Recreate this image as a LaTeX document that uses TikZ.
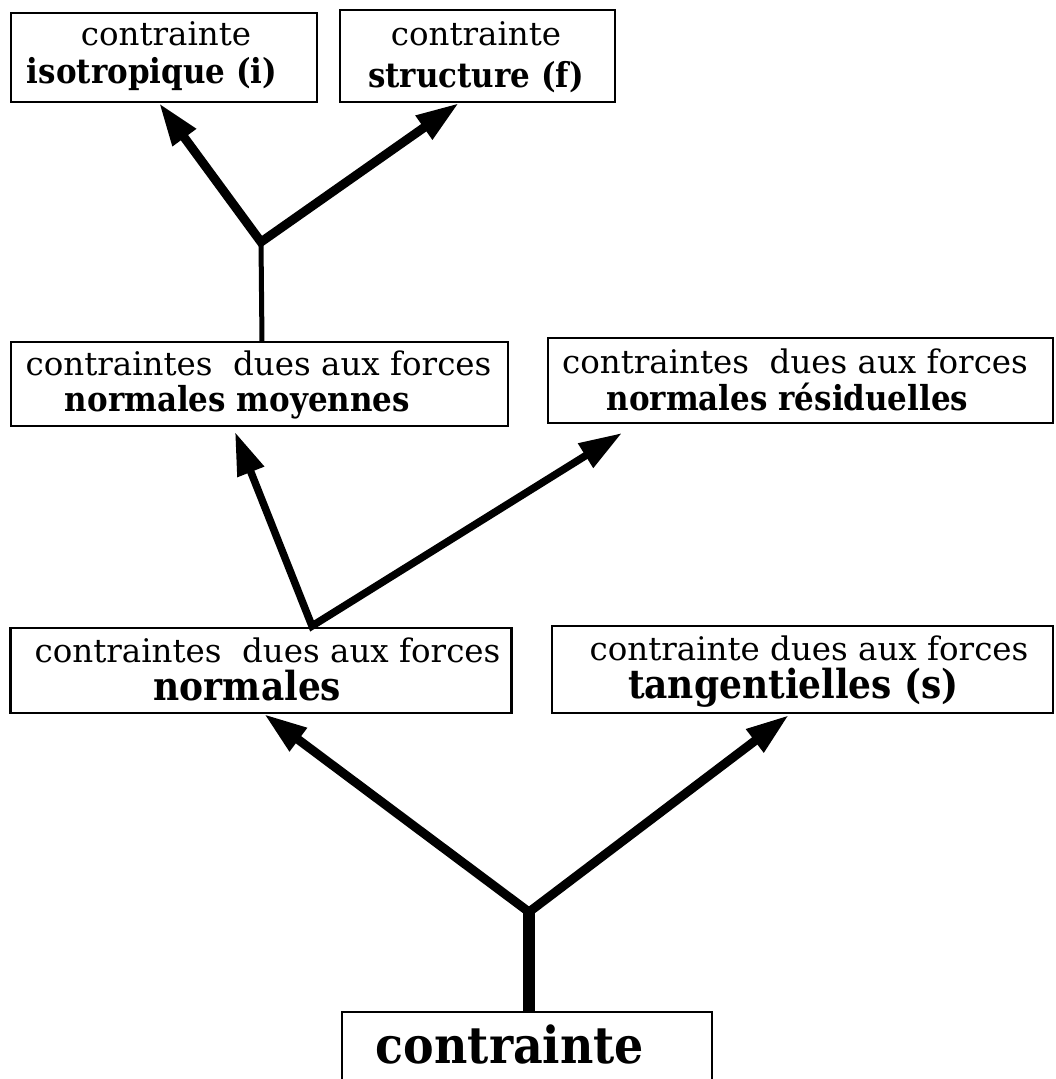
\documentclass[tikz,border=0pt]{standalone}
\usepackage{fontspec}
\setmainfont{DejaVu Serif}[BoldFeatures={FakeStretch=0.9}]
\usetikzlibrary{arrows.meta}
\begin{document}
\begin{tikzpicture}[x=1pt,y=-1pt,
  box/.style={draw, line width=2.6pt, rectangle, inner sep=0pt},
  reg/.style={font=\fontsize{32.5}{39}\selectfont, anchor=base, inner sep=0pt},
  bld/.style={font=\fontsize{34.4}{41}\selectfont\bfseries, anchor=base, inner sep=0pt},
  bldl/.style={font=\fontsize{40}{48}\selectfont\bfseries, anchor=base, inner sep=0pt},
  bldxl/.style={font=\fontsize{51}{61}\selectfont\bfseries, anchor=base, inner sep=0pt},
  arr/.style={line width=9pt, line join=miter, {Triangle[length=43pt,width=27pt]}-{Triangle[length=43pt,width=27pt]}},
  stem/.style={line width=5pt}
]
\useasboundingbox (0,0) rectangle (1055,1079);

% boxes
\node[box, minimum width=306pt, minimum height=89pt] (bi) at (164,57.5) {};
\node[box, minimum width=275pt, minimum height=92pt] (bf) at (477.5,56) {};
\node[box, minimum width=497pt, minimum height=84pt] (bnm) at (259.5,384) {};
\node[box, minimum width=505pt, minimum height=85pt] (bnr) at (800.5,380.5) {};
\node[box, minimum width=501pt, minimum height=85pt] (bn) at (261,670.5) {};
\node[box, minimum width=501pt, minimum height=87pt] (bt) at (802.5,669.5) {};
\node[box, minimum width=370pt, minimum height=120pt] (bc) at (527,1072) {};

% texts
\node[reg] (ti1) at (166,45) {contrainte};
\node[bld] (ti2) at (152,83) {isotropique (i)};
\node[reg] (tf1) at (476,45) {contrainte};
\node[bld] (tf2) at (476,87) {structure (f)};
\node[reg] (tnm1) at (258.5,375) {contraintes\ \ dues aux forces};
\node[bld] (tnm2) at (237.5,411) {normales moyennes};
\node[reg] (tnr1) at (795,373) {contraintes\ \ dues aux forces};
\node[bld] (tnr2) at (787.5,410) {normales résiduelles};
\node[reg] (tn1) at (267.5,662) {contraintes\ \ dues aux forces};
\node[bldl] (tn2) at (247.5,700) {normales};
\node[reg] (tt1) at (809,660) {contrainte dues aux forces};
\node[bldl] (tt2) at (793.5,698) {tangentielles (s)};
\node[bldxl] (tc) at (510,1063) {contrainte};

% junctions and arrow tips
\coordinate (j1) at (261,242);
\coordinate (s1) at (262,342);
\coordinate (pi) at (159,103);
\coordinate (pf) at (459,103);
\coordinate (j2) at (312,626);
\coordinate (pnm) at (235,432);
\coordinate (pnr) at (622,433);
\coordinate (j3) at (529,912);
\coordinate (s3) at (529,1012);
\coordinate (pn) at (264,714);
\coordinate (pt) at (789,715);

\draw[stem] (s1) -- (j1);
\draw[arr] (pi) -- (j1) -- (pf);
\draw[arr, line width=7.5pt] (pnm) -- (j2) -- (pnr);
\draw[line width=12pt] (s3) -- (j3);
\draw[arr] (pn) -- (j3) -- (pt);
\end{tikzpicture}
\end{document}
